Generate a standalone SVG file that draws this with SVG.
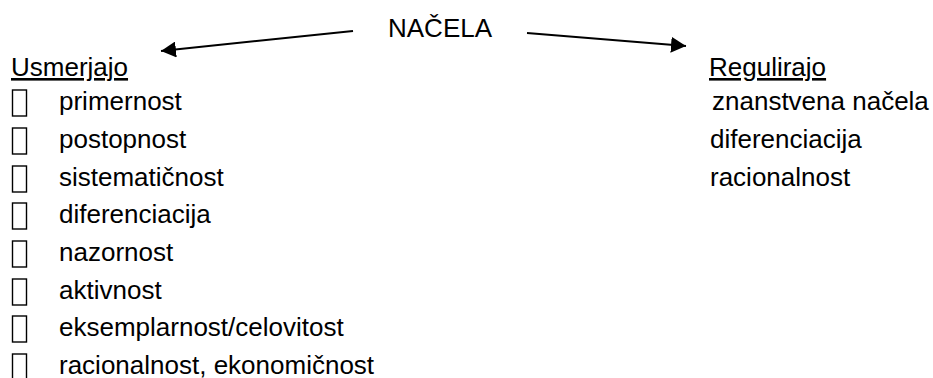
<svg xmlns="http://www.w3.org/2000/svg" width="933" height="378" viewBox="0 0 933 378">
<style>
text{font-family:"Liberation Sans",Arial,sans-serif;font-size:26px;fill:#000}
.u{text-decoration:underline}
.box{fill:none;stroke:#000;stroke-width:1.4}
.conn{stroke:#000;stroke-width:2;fill:none}
</style>
<defs>
<marker id="ah" markerUnits="userSpaceOnUse" markerWidth="16" markerHeight="16" refX="15" refY="8" orient="auto" viewBox="0 0 16 16">
<path d="M0,0 L15,8 L0,16 z" fill="#000"/>
</marker>
<rect id="bx" class="box" x="0" y="0" width="14" height="26"/>
</defs>
<g id="nacela"><text x="388" y="37">NAČELA</text></g>
<g id="connectors">
<line class="conn" x1="353" y1="31" x2="161" y2="51" marker-end="url(#ah)"/>
<line class="conn" x1="527" y1="33" x2="686" y2="46" marker-end="url(#ah)"/>
</g>
<g id="usmerjajo">
<text class="u" x="11" y="76">Usmerjajo</text>
<use href="#bx" x="12.5" y="90"/><text x="59" y="110">primernost</text>
<use href="#bx" x="12.5" y="128"/><text x="59" y="148">postopnost</text>
<use href="#bx" x="12.5" y="166"/><text x="59" y="186">sistematičnost</text>
<use href="#bx" x="12.5" y="203"/><text x="59" y="223">diferenciacija</text>
<use href="#bx" x="12.5" y="241"/><text x="59" y="261">nazornost</text>
<use href="#bx" x="12.5" y="279"/><text x="59" y="299">aktivnost</text>
<use href="#bx" x="12.5" y="316"/><text x="59" y="336">eksemplarnost/celovitost</text>
<use href="#bx" x="12.5" y="354"/><text x="59" y="374">racionalnost, ekonomičnost</text>
</g>
<g id="regulirajo">
<text class="u" x="709" y="76">Regulirajo</text>
<text x="712" y="110">znanstvena načela</text>
<text x="710" y="148">diferenciacija</text>
<text x="710" y="186">racionalnost</text>
</g>
</svg>
